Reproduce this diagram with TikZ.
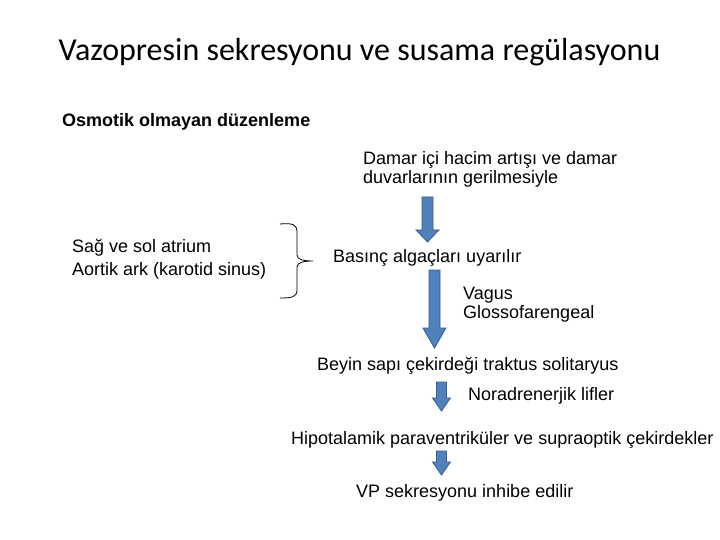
\documentclass[tikz,border=0pt]{standalone}
\usepackage{fontspec}
\setmainfont{Liberation Sans}
\newfontfamily\titlefont{Carlito}
\begin{document}
\begin{tikzpicture}[x=1pt,y=-1pt,
  txt/.style={anchor=base west,inner sep=0pt,font=\fontsize{18}{20}\selectfont},
  ttl/.style={anchor=base,inner sep=0pt,font=\titlefont\fontsize{32}{36}\selectfont},
  blockarr/.style={fill={rgb,255:red,79;green,129;blue,189},draw={rgb,255:red,56;green,93;blue,138},line width=0.8pt,line join=miter},
  bracestyle/.style={draw=black,line width=0.8pt}]
\useasboundingbox (0,0) rectangle (720,540);
\fill[white] (0,0) rectangle (720,540);
% blockarrow: #1 center x, #2 top, #3 head start, #4 tip, #5 half shaft, #6 half head
\newcommand\blockarrowdraw[6]{%
  \draw[blockarr] (#1-#5,#2) -- (#1+#5,#2) -- (#1+#5,#3) -- (#1+#6,#3) -- (#1,#4) -- (#1-#6,#3) -- (#1-#5,#3) -- cycle;}
\node[ttl] (title) at (359.5,61) {Vazopresin sekresyonu ve susama regülasyonu};
\node[txt,font=\bfseries\fontsize{18}{20}\selectfont] (osm) at (62,127) {Osmotik olmayan düzenleme};
\node[txt] (dam1) at (363,165) {Damar içi hacim artışı ve damar};
\node[txt] (dam2) at (363,184) {duvarlarının gerilmesiyle};
\node[txt] (sag) at (72,252.5) {Sağ ve sol atrium};
\node[txt] (aor) at (72,275) {Aortik ark (karotid sinus)};
\node[txt] (bas) at (333,262) {Basınç algaçları uyarılır};
\node[txt] (vag) at (463,299) {Vagus};
\node[txt] (glo) at (463,318) {Glossofarengeal};
\node[txt] (bey) at (317,370) {Beyin sapı çekirdeği traktus solitaryus};
\node[txt] (nor) at (468,400) {Noradrenerjik lifler};
\node[txt] (hip) at (291,444) {Hipotalamik paraventriküler ve supraoptik çekirdekler};
\node[txt] (vp) at (356,497) {VP sekresyonu inhibe edilir};
% brace
\draw[bracestyle] (280,224) .. controls (292,223) and (297,224) .. (297,232)
  -- (297,255) .. controls (297,260) and (305,261) .. (313,261)
  .. controls (305,261) and (297,262) .. (297,267)
  -- (297,290) .. controls (297,297) and (292,298) .. (280,298);
% arrows
\blockarrowdraw{427.5}{197}{230}{242}{5.5}{11.5}
\blockarrowdraw{434.5}{270}{328}{348}{5.5}{11.5}
\blockarrowdraw{441.5}{382}{398}{411}{5}{9}
\blockarrowdraw{441.5}{451}{462}{475}{5}{9}
\end{tikzpicture}
\end{document}
